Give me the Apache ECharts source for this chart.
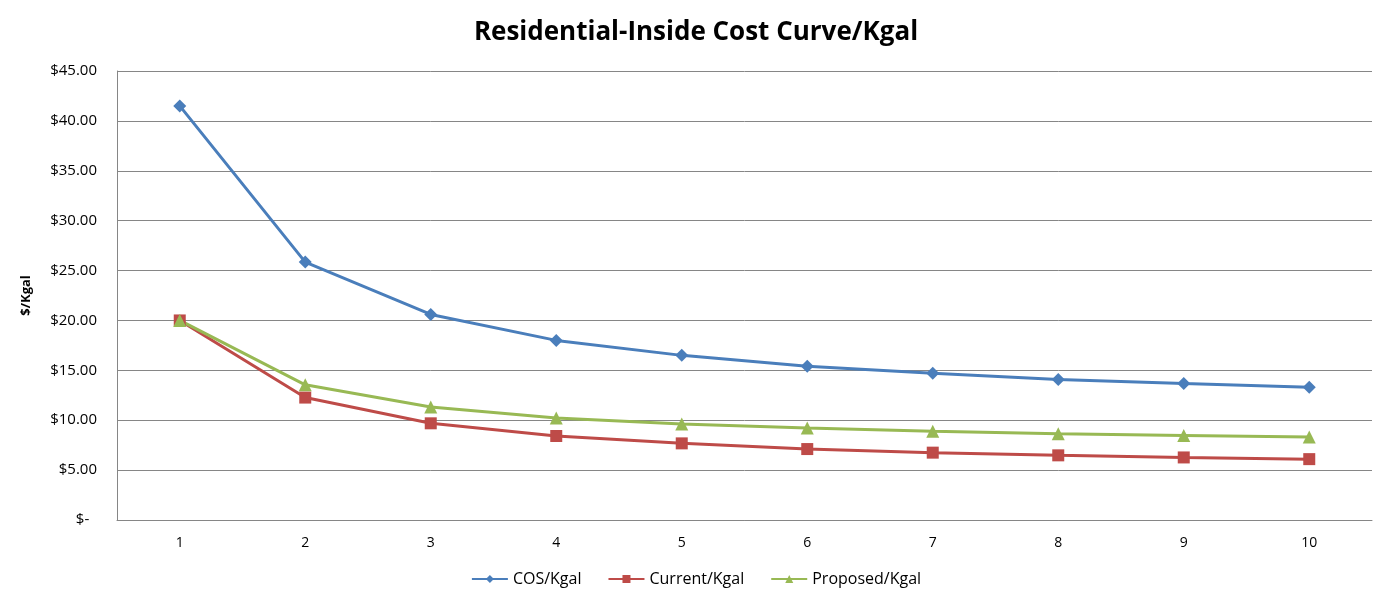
<!DOCTYPE html>
<html>
<head>
<meta charset="utf-8">
<script src="https://cdn.jsdelivr.net/npm/echarts@6/dist/echarts.min.js"></script>
<style>
  html, body { margin: 0; padding: 0; background: #fff; }
  #chart { width: 1392px; height: 606px; }
</style>
</head>
<body>
<div id="chart"></div>
<script>
// Usage tiers (thousand gallons)
const categories = ['1', '2', '3', '4', '5', '6', '7', '8', '9', '10'];

// Cost per Kgal at each usage tier
const cosPerKgal      = [41.5, 25.85, 20.6, 18.0, 16.5, 15.4, 14.7, 14.07, 13.67, 13.3];
const currentPerKgal  = [20.0, 12.27, 9.69, 8.42, 7.68, 7.11, 6.75, 6.48, 6.27, 6.1];
const proposedPerKgal = [20.0, 13.55, 11.33, 10.22, 9.62, 9.22, 8.89, 8.65, 8.48, 8.31];

const seriesNames = ['COS/Kgal', 'Current/Kgal', 'Proposed/Kgal'];

const FONT = '"Open Sans", "Liberation Sans", sans-serif';

function money(v) {
  if (v === 0) return '$-  ';
  return '$' + v.toFixed(2);
}

const chart = echarts.init(document.getElementById('chart'), null, { renderer: 'canvas' });

chart.setOption({
  animation: false,
  backgroundColor: '#ffffff',
  title: {
    text: 'Residential-Inside Cost Curve/Kgal',
    left: 'center',
    top: 15,
    textStyle: { fontFamily: FONT, fontSize: 26, fontWeight: 'bold', color: '#000' }
  },
  legend: {
    bottom: 14,
    left: 'center',
    itemWidth: 36,
    itemHeight: 10,
    itemGap: 26,
    textStyle: { fontFamily: FONT, fontSize: 16, color: '#000' },
    data: seriesNames
  },
  grid: { left: 117, right: 20, top: 71, bottom: 86, containLabel: false },
  xAxis: {
    type: 'category',
    data: categories,
    boundaryGap: true,
    axisLine: { lineStyle: { color: '#868686', width: 1 } },
    axisTick: { show: false },
    axisLabel: { fontFamily: FONT, fontSize: 14, color: '#000', margin: 16 },
    splitLine: { show: false }
  },
  yAxis: {
    type: 'value',
    min: 0,
    max: 45,
    interval: 5,
    name: '$/Kgal',
    nameLocation: 'middle',
    nameGap: 84,
    nameTextStyle: { fontFamily: FONT, fontSize: 13, fontWeight: 'bold', color: '#000' },
    axisLine: { show: true, lineStyle: { color: '#868686', width: 1 } },
    axisTick: { show: false },
    axisLabel: { fontFamily: FONT, fontSize: 15, color: '#000', margin: 20, formatter: money },
    splitLine: { show: true, lineStyle: { color: '#868686', width: 1 } }
  },
  series: [
    {
      name: seriesNames[0],
      type: 'line',
      data: cosPerKgal,
      symbol: 'diamond',
      symbolSize: 13,
      lineStyle: { width: 3, color: '#4A7EBB' },
      itemStyle: { color: '#4A7EBB' }
    },
    {
      name: seriesNames[1],
      type: 'line',
      data: currentPerKgal,
      symbol: 'rect',
      symbolSize: 12,
      lineStyle: { width: 3, color: '#BE4B48' },
      itemStyle: { color: '#BE4B48' }
    },
    {
      name: seriesNames[2],
      type: 'line',
      data: proposedPerKgal,
      symbol: 'triangle',
      symbolSize: 13,
      lineStyle: { width: 3, color: '#98B954' },
      itemStyle: { color: '#98B954' }
    }
  ]
});
</script>
</body>
</html>
